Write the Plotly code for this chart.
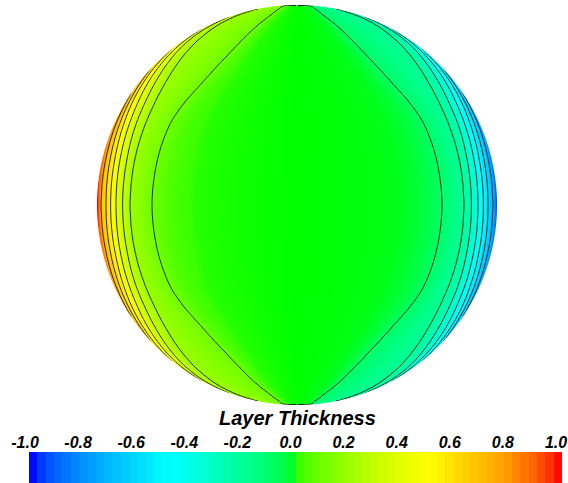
import numpy as np
import plotly.graph_objects as go

# ---------------- data ----------------
# contour levels on the left (positive) half; mirrored negative on the right half
levels = [0.1, 0.2, 0.3, 0.4, 0.5, 0.6, 0.7, 1.0]
# normalized screen height (|y| / radius) where contour positions were read
v_anchor = [0.0, 0.2, 0.4, 0.5, 0.6, 0.7, 0.8, 0.85, 0.9, 0.95, 0.98, 1.0]
# relative horizontal position (|x| / half-width of disk at that height) of each level
r_c01 = [0.725, 0.718, 0.695, 0.660, 0.605, 0.550, 0.495, 0.470, 0.445, 0.415, 0.440, 0.750]
r_c02 = [0.835, 0.834, 0.830, 0.828, 0.832, 0.845, 0.868, 0.885, 0.910, 0.950, 0.995, 1.050]
r_c03 = [0.872, 0.873, 0.880, 0.884, 0.895, 0.915, 0.945, 0.962, 0.983, 1.004, 1.060, 1.150]
r_c04 = [0.905, 0.908, 0.917, 0.925, 0.940, 0.958, 0.981, 0.992, 1.005, 1.040, 1.120, 1.300]
r_c05 = [0.932, 0.935, 0.947, 0.958, 0.970, 0.985, 1.004, 1.020, 1.050, 1.100, 1.220, 1.500]
r_c06 = [0.955, 0.959, 0.970, 0.978, 0.988, 1.003, 1.035, 1.055, 1.085, 1.140, 1.350, 1.800]
r_c07 = [0.980, 0.982, 0.990, 0.995, 1.004, 1.025, 1.060, 1.085, 1.125, 1.200, 1.500, 2.200]
r_c10 = [1.000, 1.010, 1.030, 1.050, 1.080, 1.100, 1.140, 1.170, 1.220, 1.300, 1.750, 3.000]
# interior profile (fraction of first contour position -> value)
inner_frac = [0.0, 0.3, 0.5, 0.7, 0.8, 0.9, 1.0]
inner_val = [0.0, 0.003, 0.006, 0.010, 0.020, 0.045, 0.1]

# colour map stops (value -> rgb)
cmap_val = [-1.0, -0.97, -0.95, -0.9, -0.8, -0.7, -0.6, -0.5, -0.45, -0.35, -0.25,
            -0.15, -0.05, -0.0156, 0.0, 0.0156, 0.05, 0.1, 0.2, 0.3, 0.4, 0.5,
            0.6, 0.7, 0.8, 0.9, 0.95, 0.97, 1.0]
cmap_rgb = [(0, 0, 255), (0, 20, 255), (0, 64, 255), (0, 100, 255), (0, 145, 255),
            (0, 185, 255), (0, 215, 255), (0, 250, 255), (0, 255, 250), (0, 255, 215),
            (0, 255, 170), (0, 255, 130), (0, 255, 75), (0, 255, 40), (0, 255, 0),
            (60, 255, 0), (85, 255, 0), (110, 255, 0), (155, 255, 0), (195, 255, 0),
            (228, 255, 0), (255, 255, 0), (255, 220, 0), (255, 190, 0), (255, 150, 0),
            (255, 95, 0), (255, 55, 0), (255, 20, 0), (255, 0, 0)]

tick_vals = [-1.0, -0.8, -0.6, -0.4, -0.2, 0.0, 0.2, 0.4, 0.6, 0.8, 1.0]
tick_text = ["-1.0", "-0.8", "-0.6", "-0.4", "-0.2", "0.0", "0.2", "0.4", "0.6", "0.8", "1.0"]
n_bands = 64
title_text = "Layer Thickness"


# ---------------- helpers ----------------
def pchip(xk, yk, x):
    """Monotone cubic Hermite through the read anchor points (zero slope at v=0)."""
    xk = np.asarray(xk, float)
    yk = np.asarray(yk, float)
    h = np.diff(xk)
    dl = np.diff(yk) / h
    d = np.zeros_like(yk)
    for k in range(1, len(xk) - 1):
        if dl[k - 1] * dl[k] > 0:
            w1 = 2 * h[k] + h[k - 1]
            w2 = h[k] + 2 * h[k - 1]
            d[k] = (w1 + w2) / (w1 / dl[k - 1] + w2 / dl[k])
    d[0] = 0.0
    d[-1] = dl[-1]
    j = int(np.clip(np.searchsorted(xk, x) - 1, 0, len(xk) - 2))
    t = (x - xk[j]) / h[j]
    h00 = 2 * t ** 3 - 3 * t ** 2 + 1
    h10 = t ** 3 - 2 * t ** 2 + t
    h01 = -2 * t ** 3 + 3 * t ** 2
    h11 = t ** 3 - t ** 2
    return h00 * yk[j] + h10 * h[j] * d[j] + h01 * yk[j + 1] + h11 * h[j] * d[j + 1]


# ---------------- build field ----------------
colorscale = [[(val + 1) / 2, "rgb(%d,%d,%d)" % c] for val, c in zip(cmap_val, cmap_rgb)]
curves = [r_c01, r_c02, r_c03, r_c04, r_c05, r_c06, r_c07, r_c10]

n = 409
u = np.linspace(-1.02, 1.02, n)
v = np.linspace(-1.02, 1.02, n)
Z = np.empty((n, n))
for i, vv in enumerate(v):
    av = min(abs(vv), 1.0)
    rk = np.array([pchip(v_anchor, c, av) for c in curves])
    rk = np.maximum.accumulate(rk + np.arange(len(rk)) * 1e-6)
    hw = np.sqrt(max(1.0 - av ** 2, 1e-6))
    r = np.minimum(np.abs(u) / hw, 1.0)   # outside the limb: hold the limb value
    xp = [f * rk[0] for f in inner_frac[:-1]] + list(rk)
    fp = inner_val[:-1] + levels
    Z[i] = -np.sign(u) * np.interp(r, xp, fp)

band_centers = [-1 + (2.0 / n_bands) * (k + 0.5) for k in range(n_bands)]

fig = go.Figure()
fig.add_trace(go.Heatmap(x=u, y=v, z=Z, colorscale=colorscale, zmin=-1, zmax=1,
                         showscale=False, zsmooth=False, hoverinfo="skip"))
line_col = "#151515"
fig.add_trace(go.Contour(x=u, y=v, z=Z, showscale=False, hoverinfo="skip",
                         contours=dict(start=levels[0], end=levels[6], size=0.1, coloring="none"),
                         line=dict(color=line_col, width=0.9)))
fig.add_trace(go.Contour(x=u, y=v, z=Z, showscale=False, hoverinfo="skip",
                         contours=dict(start=-levels[6], end=-levels[0], size=0.1, coloring="none"),
                         line=dict(color=line_col, width=0.9)))

# colour bar strip
fig.add_trace(go.Heatmap(x=band_centers, y=[0], z=[band_centers], colorscale=colorscale,
                         zmin=-1, zmax=1, showscale=False, hoverinfo="skip",
                         xaxis="x3", yaxis="y2"))
# invisible carrier for the tick-label axis
fig.add_trace(go.Scatter(x=tick_vals, y=[0] * len(tick_vals), mode="markers",
                         marker=dict(opacity=0), hoverinfo="skip", showlegend=False,
                         xaxis="x2", yaxis="y2"))

# white mask outside the disk
theta = np.linspace(0, 2 * np.pi, 721)
circle = "M" + " L".join("%.5f,%.5f" % (np.cos(t), np.sin(t)) for t in theta) + " Z"
rect = "M-1.08,-1.08 L1.08,-1.08 L1.08,1.08 L-1.08,1.08 Z"
fig.add_shape(type="path", path=rect + " " + circle, xref="x", yref="y",
              fillcolor="white", line=dict(width=0), layer="above", fillrule="evenodd")

W, H = 568, 483
cx, cy, R = 297, 205, 200
font_b = dict(family="Liberation Sans", color="black", weight="bold", style="italic")

fig.update_layout(
    width=W, height=H, margin=dict(l=0, r=0, t=0, b=0, autoexpand=False),
    paper_bgcolor="white", plot_bgcolor="white", showlegend=False,
    xaxis=dict(domain=[0, 1], range=[(0 - cx) / R, (W - cx) / R], visible=False,
               automargin=False),
    yaxis=dict(domain=[0, 1], range=[(cy - H) / R, cy / R], visible=False,
               automargin=False),
    xaxis2=dict(domain=[25 / W, 556 / W], range=[-1, 1], anchor="y2", side="top",
                tickmode="array", tickvals=tick_vals, ticktext=tick_text, ticks="",
                showgrid=False, zeroline=False, showline=False, automargin=False,
                ticklabeloverflow="allow",
                tickfont=dict(size=16, **font_b)),
    xaxis3=dict(domain=[29 / W, 562 / W], range=[-1, 1], anchor="y2", visible=False,
                automargin=False),
    yaxis2=dict(domain=[0, 31 / H], range=[-0.5, 0.5], anchor="x2", visible=False,
                automargin=False),
    annotations=[dict(text=title_text, x=cx / W, y=(H - 418) / H, xref="paper", yref="paper",
                      showarrow=False, xanchor="center", yanchor="middle",
                      font=dict(size=20, **font_b))],
)

fig.write_html("out.html")
